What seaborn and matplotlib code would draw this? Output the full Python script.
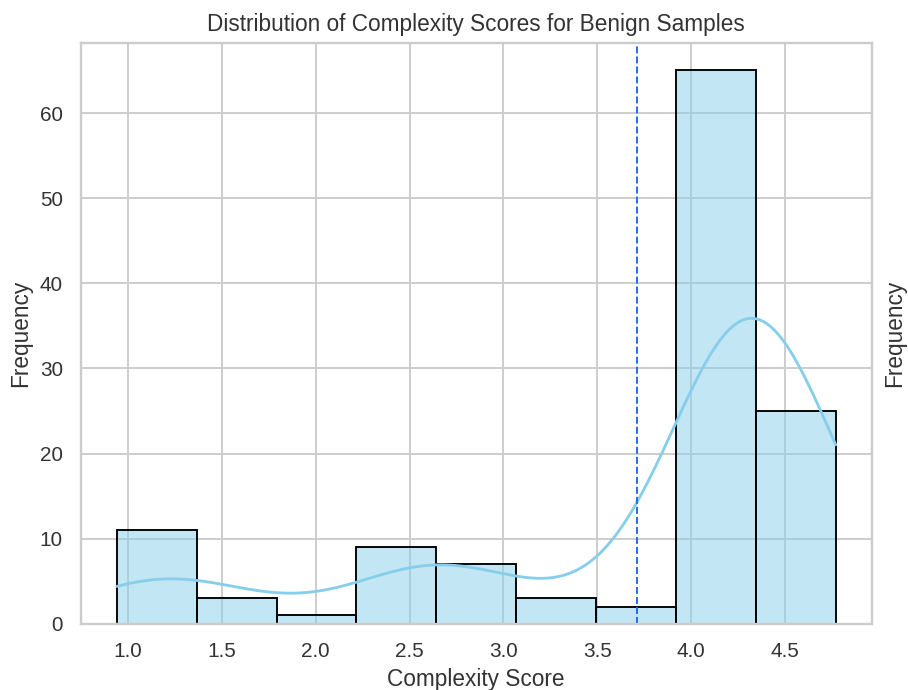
import numpy as np
import pandas as pd
import matplotlib
matplotlib.use("Agg")
import matplotlib.pyplot as plt
import seaborn as sns

# Complexity scores and how many samples have each
scores = [0.94, 1.15, 1.25, 1.50, 1.60, 2.00, 2.45, 2.58, 2.68, 2.85,
          3.25, 3.70, 4.00, 4.20, 4.27, 4.33, 4.38, 4.48, 4.60, 4.77]
counts = [3, 4, 4, 2, 1, 1, 3, 6, 4, 3,
          3, 2, 2, 10, 28, 25, 10, 8, 5, 2]
threshold = 3.71
n_bins = 9

title = "Distribution of Complexity Scores for Benign Samples"
xlabel = "Complexity Score"
ylabel = "Frequency"

df = pd.DataFrame({"score": np.repeat(scores, counts)})

sns.set_theme(style="whitegrid")
plt.rcParams["font.family"] = ["Liberation Sans", "DejaVu Sans"]

DPI = 136
fig, ax = plt.subplots(figsize=(908 / DPI, 690 / DPI), dpi=DPI)
fig.subplots_adjust(left=0.089, right=0.960, top=0.938, bottom=0.096)

sns.histplot(data=df, x="score", bins=n_bins, kde=True, color="skyblue",
             edgecolor="black", linewidth=1.0, alpha=0.5, ax=ax,
             line_kws={"linewidth": 1.5})
ax.axvline(threshold, color="#1f66ff", linestyle="--", linewidth=1.0)

ax.set_title(title, color="#333333")
ax.set_xlabel(xlabel, color="#333333")
ax.set_ylabel(ylabel, color="#333333")
ax.set_xticks([1.0, 1.5, 2.0, 2.5, 3.0, 3.5, 4.0, 4.5])
ax.set_yticks([0, 10, 20, 30, 40, 50, 60])

ax2 = ax.twinx()
ax2.set_yticks([])
ax2.grid(False)
ax2.set_ylabel(ylabel, color="#333333", labelpad=6)
for sp in ax2.spines.values():
    sp.set_visible(False)
ax.tick_params(left=False, bottom=False, colors="#333333")

fig.savefig("out.png", dpi=DPI)
